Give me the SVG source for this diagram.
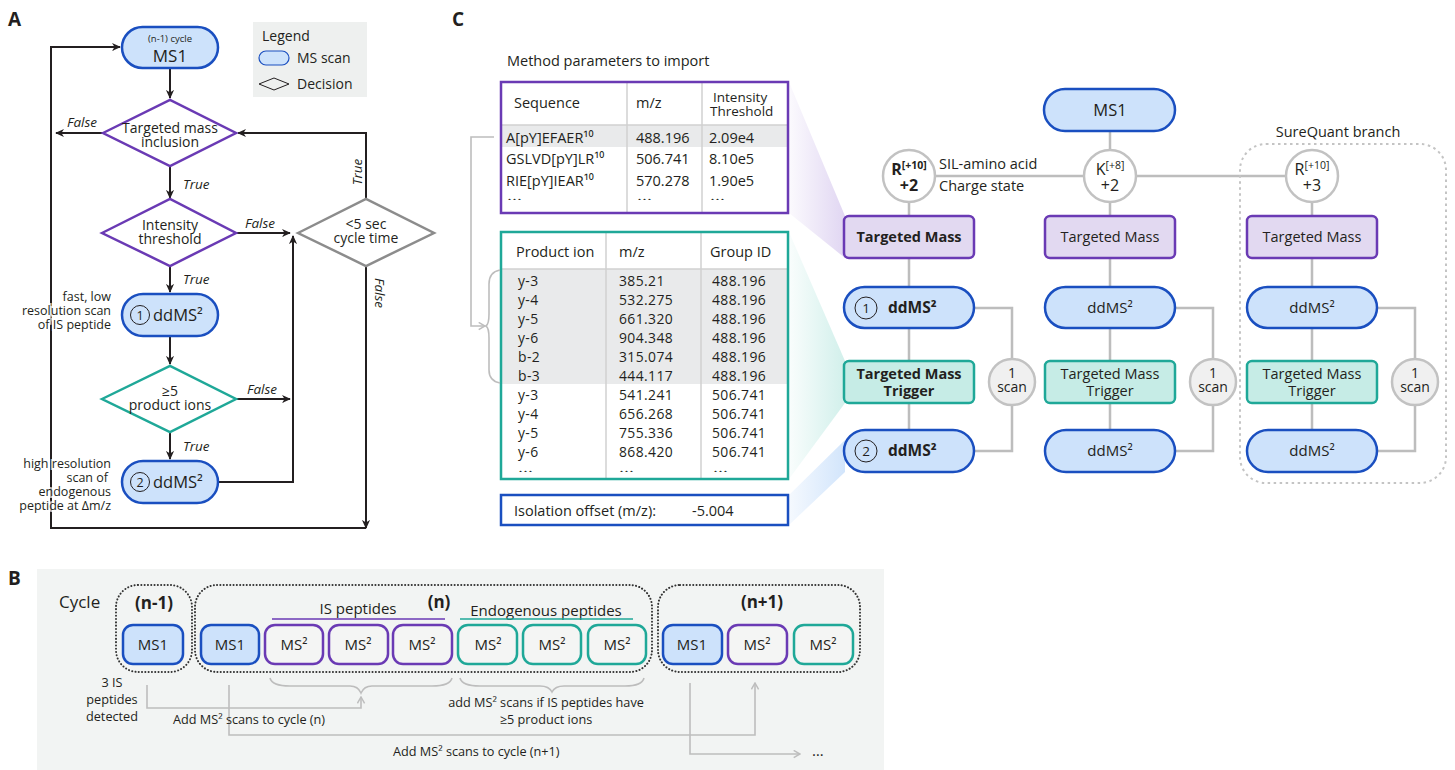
<svg xmlns="http://www.w3.org/2000/svg" width="1455" height="770" viewBox="0 0 1455 770">
<defs>
<style>
.t{font-family:"Open Sans","Noto Sans","Liberation Sans",sans-serif;fill:#231f20}
.b{font-weight:bold}
.i{font-style:italic}
.pill{fill:#cde2fb;stroke:#1a4fc0;stroke-width:2.5}
.tm{fill:#e2d9f1;stroke:#6a3ab4;stroke-width:2.5}
.tr{fill:#c6ece6;stroke:#1fa898;stroke-width:2.5}
.dk{fill:none;stroke:#231f20;stroke-width:2}
.gl{fill:none;stroke:#bdbdbd;stroke-width:2.5}
.gb{fill:none;stroke:#bdbdbd;stroke-width:1.6}
.halo{stroke:#ffffff;stroke-width:4;stroke-opacity:0.7;paint-order:stroke}
.num{fill:none;stroke:#231f20;stroke-width:1}
.scan{fill:#f0f0f0;stroke:#c2c2c2;stroke-width:2.5}
.sil{fill:#fff;stroke:#c2c2c2;stroke-width:2.5}
.dot{fill:none;stroke:#333;stroke-width:2;stroke-dasharray:0.1 3.2;stroke-linecap:round}
.mp{fill:#f4f5f4;stroke:#6a3ab4;stroke-width:2.5}
.mt{fill:#f4f5f4;stroke:#1fa898;stroke-width:2.5}
.mb{fill:#cde2fb;stroke:#1a4fc0;stroke-width:2.5}
.r2{font-size:13.9px;letter-spacing:0.4px}
</style>
<marker id="ah" viewBox="0 0 10 10" refX="9" refY="5" markerWidth="4.5" markerHeight="4.5" orient="auto" markerUnits="strokeWidth">
<path d="M0,0.5 L10,5 L0,9.5 L3,5 z" fill="#231f20"/>
</marker>
<marker id="ga" viewBox="0 0 10 10" refX="9" refY="5" markerWidth="9" markerHeight="9" orient="auto" markerUnits="userSpaceOnUse">
<path d="M2,1 L9,5 L2,9" fill="none" stroke="#bdbdbd" stroke-width="1.6"/>
</marker>
<linearGradient id="gp" x1="0" y1="0" x2="1" y2="0">
<stop offset="0" stop-color="#d9ccef" stop-opacity="0.1"/>
<stop offset="1" stop-color="#d9ccef" stop-opacity="0.8"/>
</linearGradient>
<linearGradient id="gt" x1="0" y1="0" x2="1" y2="0">
<stop offset="0" stop-color="#c6ece6" stop-opacity="0.1"/>
<stop offset="1" stop-color="#c6ece6" stop-opacity="0.8"/>
</linearGradient>
<linearGradient id="gbl" x1="0" y1="0" x2="1" y2="0">
<stop offset="0" stop-color="#cde2fb" stop-opacity="0.2"/>
<stop offset="1" stop-color="#cde2fb" stop-opacity="0.9"/>
</linearGradient>
</defs>
<rect width="1455" height="770" fill="#ffffff"/>

<!-- Panel labels -->
<text class="t b" x="8" y="26" font-size="19">A</text>
<text class="t b" x="452" y="26" font-size="19">C</text>
<text class="t b" x="8" y="585" font-size="19">B</text>

<!-- ================= PANEL A ================= -->
<g id="a-connectors">
<path class="dk" d="M170,68 V98" marker-end="url(#ah)"/>
<path class="dk" d="M103,133 H56" marker-end="url(#ah)"/>
<path class="dk" d="M366,528 H51 V47 H120" marker-end="url(#ah)"/>
<path class="dk" d="M170,166 V198" marker-end="url(#ah)"/>
<path class="dk" d="M236,233 H290" marker-end="url(#ah)"/>
<path class="dk" d="M366,199 V133 H238" marker-end="url(#ah)"/>
<path class="dk" d="M366,266 V528" marker-end="url(#ah)"/>
<path class="dk" d="M170,266 V292" marker-end="url(#ah)"/>
<path class="dk" d="M170,336 V364" marker-end="url(#ah)"/>
<path class="dk" d="M236,399 H290" marker-end="url(#ah)"/>
<path class="dk" d="M170,433 V459" marker-end="url(#ah)"/>
<path class="dk" d="M218,482 H293 V236" marker-end="url(#ah)"/>
<text class="t i" x="67" y="127" font-size="13.5">False</text>
<text class="t i" x="183" y="189" font-size="13.5">True</text>
<text class="t i" x="245" y="228" font-size="13.5">False</text>
<text class="t i" x="183" y="284" font-size="13.5">True</text>
<text class="t i" x="247" y="394" font-size="13.5">False</text>
<text class="t i" x="183" y="451" font-size="13.5">True</text>
<text class="t i" x="0" y="0" font-size="13.5" text-anchor="middle" transform="translate(362,172) rotate(-90)">True</text>
<text class="t i" x="0" y="0" font-size="13.5" text-anchor="middle" transform="translate(375,293) rotate(90)">False</text>
</g>

<g id="a-ms1">
<rect class="pill" x="122" y="27" width="96" height="41" rx="20.5"/>
<text class="t" text-anchor="middle"><tspan x="170" y="42" font-size="9.5">(n-1) cycle</tspan><tspan x="170" y="62" font-size="17">MS1</tspan></text>
</g>
<g id="a-legend">
<rect x="253" y="22" width="114" height="75" fill="#eef0ef"/>
<text class="t" x="262" y="41" font-size="14">Legend</text>
<rect x="259" y="51" width="30" height="14" rx="7" fill="#cde2fb" stroke="#1a4fc0" stroke-width="1.2"/>
<text class="t" x="297" y="63" font-size="14">MS scan</text>
<polygon points="259,84 274,78 289,84 274,90" fill="none" stroke="#231f20" stroke-width="1"/>
<text class="t" x="297" y="89" font-size="14">Decision</text>
</g>
<g id="a-d1">
<polygon points="103,133 170,100 236,133 170,166" fill="#fff" stroke="#6a3ab4" stroke-width="2.5"/>
<text class="t" font-size="14" text-anchor="middle"><tspan x="170" y="133">Targeted mass</tspan><tspan x="170" y="147">inclusion</tspan></text>
</g>
<g id="a-d2">
<polygon points="102,233 170,199 236,233 170,266" fill="#fff" stroke="#6a3ab4" stroke-width="2.5"/>
<text class="t" font-size="14" text-anchor="middle"><tspan x="170" y="230">Intensity</tspan><tspan x="170" y="244">threshold</tspan></text>
</g>
<g id="a-d3">
<polygon points="298,233 366,199 434,233 366,266" fill="#fff" stroke="#8c8c8c" stroke-width="2.5"/>
<text class="t" font-size="14" text-anchor="middle"><tspan x="366" y="229">&lt;5 sec</tspan><tspan x="366" y="243">cycle time</tspan></text>
</g>
<g id="a-dd1">
<rect class="pill" x="122" y="294" width="96" height="42" rx="21"/>
<circle class="num" cx="140" cy="315" r="9.5"/>
<text class="t" x="140" y="319.5" font-size="12.5" text-anchor="middle">1</text>
<text class="t" x="153" y="321" font-size="16.5">ddMS²</text>
<text class="t halo" font-size="12.5" text-anchor="end"><tspan x="111" y="301">fast, low</tspan><tspan x="111" y="315">resolution scan</tspan><tspan x="111" y="329">of IS peptide</tspan></text>
</g>
<g id="a-d4">
<polygon points="102,399 170,366 236,399 170,432" fill="#fff" stroke="#1fa898" stroke-width="2.5"/>
<text class="t" font-size="14" text-anchor="middle"><tspan x="170" y="396">≥5</tspan><tspan x="170" y="410">product ions</tspan></text>
</g>
<g id="a-dd2">
<rect class="pill" x="122" y="461" width="96" height="42" rx="21"/>
<circle class="num" cx="140" cy="482" r="9.5"/>
<text class="t" x="140" y="486.5" font-size="12.5" text-anchor="middle">2</text>
<text class="t" x="153" y="488" font-size="16.5">ddMS²</text>
<text class="t halo" font-size="12.5" text-anchor="end"><tspan x="111" y="468">high resolution</tspan><tspan x="108" y="482">scan of</tspan><tspan x="111" y="496">endogenous</tspan><tspan x="111" y="510">peptide at Δm/z</tspan></text>
</g>

<!-- ================= PANEL C ================= -->
<g id="c-wedges">
<polygon points="789,82 845,216 845,258 789,213" fill="url(#gp)"/>
<polygon points="789,232 845,361 845,403 789,479" fill="url(#gt)"/>
<polygon points="789,495 845,440 845,472 789,525" fill="url(#gbl)"/>
</g>

<text class="t" x="507" y="66" font-size="14.5">Method parameters to import</text>

<g id="c-table1">
<rect x="501" y="82" width="287" height="131" fill="#fff"/>
<rect x="501" y="125" width="287" height="22" fill="#e9eaeb"/>
<line x1="627" y1="82" x2="627" y2="213" stroke="#d0d0d0" stroke-width="1.5"/>
<line x1="702" y1="82" x2="702" y2="213" stroke="#d0d0d0" stroke-width="1.5"/>
<line x1="501" y1="125" x2="788" y2="125" stroke="#d0d0d0" stroke-width="1.5"/>
<rect x="501" y="82" width="287" height="131" fill="none" stroke="#6a3ab4" stroke-width="2.5"/>
<text class="t" x="514" y="108" font-size="14.5">Sequence</text>
<text class="t" x="636" y="108" font-size="14.5">m/z</text>
<text class="t" font-size="13.5"><tspan x="713" y="102">Intensity</tspan><tspan x="710" y="116">Threshold</tspan></text>
<text class="t" x="506" y="143" font-size="14.5">A[pY]EFAER¹⁰</text>
<text class="t" x="506" y="164" font-size="14.5">GSLVD[pY]LR¹⁰</text>
<text class="t" x="506" y="186" font-size="14.5">RIE[pY]IEAR¹⁰</text>
<text class="t" x="507" y="200" font-size="9" textLength="15" lengthAdjust="spacingAndGlyphs">…</text>
<text class="t" x="636" y="143" font-size="14.5">488.196</text>
<text class="t" x="636" y="164" font-size="14.5">506.741</text>
<text class="t" x="636" y="186" font-size="14.5">570.278</text>
<text class="t" x="637" y="200" font-size="9" textLength="15" lengthAdjust="spacingAndGlyphs">…</text>
<text class="t" x="709" y="143" font-size="14.5">2.09e4</text>
<text class="t" x="709" y="164" font-size="14.5">8.10e5</text>
<text class="t" x="709" y="186" font-size="14.5">1.90e5</text>
<text class="t" x="710" y="200" font-size="9" textLength="15" lengthAdjust="spacingAndGlyphs">…</text>
</g>

<g id="c-table2">
<rect x="501" y="232" width="287" height="247" fill="#fff"/>
<rect x="501" y="269" width="287" height="115" fill="#e9eaeb"/>
<line x1="606" y1="232" x2="606" y2="479" stroke="#d0d0d0" stroke-width="1.5"/>
<line x1="701" y1="232" x2="701" y2="479" stroke="#d0d0d0" stroke-width="1.5"/>
<line x1="501" y1="269" x2="788" y2="269" stroke="#d0d0d0" stroke-width="1.5"/>
<rect x="501" y="232" width="287" height="247" fill="none" stroke="#1fa898" stroke-width="2.5"/>
<text class="t" x="516" y="257" font-size="14.5">Product ion</text>
<text class="t" x="619" y="257" font-size="14.5">m/z</text>
<text class="t" x="710" y="257" font-size="14.5">Group ID</text>
<g>
<text class="t r2" x="518" y="286">y-3</text><text class="t r2" x="619" y="286">385.21</text><text class="t r2" x="712" y="286">488.196</text>
<text class="t r2" x="518" y="305">y-4</text><text class="t r2" x="619" y="305">532.275</text><text class="t r2" x="712" y="305">488.196</text>
<text class="t r2" x="518" y="324">y-5</text><text class="t r2" x="619" y="324">661.320</text><text class="t r2" x="712" y="324">488.196</text>
<text class="t r2" x="518" y="343">y-6</text><text class="t r2" x="619" y="343">904.348</text><text class="t r2" x="712" y="343">488.196</text>
<text class="t r2" x="518" y="362">b-2</text><text class="t r2" x="619" y="362">315.074</text><text class="t r2" x="712" y="362">488.196</text>
<text class="t r2" x="518" y="381">b-3</text><text class="t r2" x="619" y="381">444.117</text><text class="t r2" x="712" y="381">488.196</text>
<text class="t r2" x="518" y="400">y-3</text><text class="t r2" x="619" y="400">541.241</text><text class="t r2" x="712" y="400">506.741</text>
<text class="t r2" x="518" y="419">y-4</text><text class="t r2" x="619" y="419">656.268</text><text class="t r2" x="712" y="419">506.741</text>
<text class="t r2" x="518" y="438">y-5</text><text class="t r2" x="619" y="438">755.336</text><text class="t r2" x="712" y="438">506.741</text>
<text class="t r2" x="518" y="457">y-6</text><text class="t r2" x="619" y="457">868.420</text><text class="t r2" x="712" y="457">506.741</text>
<text class="t" x="518" y="471.5" font-size="9" textLength="15" lengthAdjust="spacingAndGlyphs">…</text>
<text class="t" x="619" y="471.5" font-size="9" textLength="15" lengthAdjust="spacingAndGlyphs">…</text>
<text class="t" x="713" y="471.5" font-size="9" textLength="15" lengthAdjust="spacingAndGlyphs">…</text>
</g>
</g>

<g id="c-isolation">
<rect x="501" y="495" width="287" height="30" fill="#fff" stroke="#1a4fc0" stroke-width="2.5"/>
<text class="t" x="514" y="516" font-size="14.5">Isolation offset (m/z):</text>
<text class="t" x="692" y="516" font-size="14.5">-5.004</text>
</g>

<g id="c-bracket">
<path class="gb" d="M494,137 H471 V326 H485" marker-end="url(#ga)"/>
<path class="gb" d="M500,270 Q489,272 489,284 V314 Q489,324 486,326 Q489,328 489,338 V370 Q489,381 500,383"/>
</g>

<g id="c-connectors">
<path class="gl" d="M1110,131 V150"/>
<path class="gl" d="M935,176 H1084 M1136,176 H1286"/>
<path class="gl" d="M909,202 V216 M909,258 V287 M909,328 V361 M909,403 V430"/>
<path class="gl" d="M1110,202 V216 M1110,258 V287 M1110,328 V361 M1110,403 V430"/>
<path class="gl" d="M1312,202 V216 M1312,258 V287 M1312,328 V361 M1312,403 V430"/>
<path class="gl" d="M974,308 H1012 V359 M1012,405 V451 H974"/>
<path class="gl" d="M1175,308 H1213 V359 M1213,405 V451 H1175"/>
<path class="gl" d="M1377,308 H1415 V359 M1415,405 V451 H1377"/>
</g>

<g id="c-surequant">
<rect x="1240" y="144" width="206" height="339" rx="26" fill="none" stroke="#c4c4c4" stroke-width="2" stroke-dasharray="2.5 3.5"/>
<text class="t" x="1338" y="137" font-size="14.5" text-anchor="middle">SureQuant branch</text>
</g>

<g id="c-ms1">
<rect class="pill" x="1044" y="89" width="131" height="42" rx="21"/>
<text class="t" x="1110" y="116" font-size="16.5" text-anchor="middle">MS1</text>
</g>

<g id="c-col1">
<circle class="sil" cx="909" cy="176" r="26"/>
<text class="t b" font-size="16" text-anchor="middle"><tspan x="909" y="175">R<tspan font-size="10.5" dy="-6">[+10]</tspan></tspan><tspan x="909" y="191">+2</tspan></text>
<text class="t" font-size="14.5"><tspan x="939" y="169">SIL-amino acid</tspan><tspan x="939" y="191">Charge state</tspan></text>
<rect class="tm" x="844" y="216" width="130" height="42" rx="5"/>
<text class="t b" x="909" y="242" font-size="14.5" text-anchor="middle">Targeted Mass</text>
<rect class="pill" x="844" y="287" width="130" height="41" rx="20.5"/>
<circle class="num" cx="866" cy="308" r="11"/>
<text class="t" x="866" y="313" font-size="13.5" text-anchor="middle">1</text>
<text class="t b" x="888" y="313" font-size="15.5">ddMS²</text>
<rect class="tr" x="844" y="361" width="130" height="42" rx="5"/>
<text class="t b" font-size="14.5" text-anchor="middle"><tspan x="909" y="379">Targeted Mass</tspan><tspan x="909" y="396">Trigger</tspan></text>
<rect class="pill" x="844" y="430" width="130" height="42" rx="21"/>
<circle class="num" cx="866" cy="451" r="11"/>
<text class="t" x="866" y="456" font-size="13.5" text-anchor="middle">2</text>
<text class="t b" x="888" y="456" font-size="15.5">ddMS²</text>
<circle class="scan" cx="1012" cy="382" r="23"/>
<text class="t" font-size="14" text-anchor="middle"><tspan x="1012" y="378">1</tspan><tspan x="1012" y="392">scan</tspan></text>
</g>

<g id="c-col2">
<circle class="sil" cx="1110" cy="176" r="26"/>
<text class="t" font-size="16" text-anchor="middle"><tspan x="1110" y="175">K<tspan font-size="10.5" dy="-6">[+8]</tspan></tspan><tspan x="1110" y="191">+2</tspan></text>
<rect class="tm" x="1045" y="216" width="130" height="42" rx="5"/>
<text class="t" x="1110" y="242" font-size="14.5" text-anchor="middle">Targeted Mass</text>
<rect class="pill" x="1045" y="287" width="130" height="41" rx="20.5"/>
<text class="t" x="1110" y="313" font-size="15" text-anchor="middle">ddMS²</text>
<rect class="tr" x="1045" y="361" width="130" height="42" rx="5"/>
<text class="t" font-size="14.5" text-anchor="middle"><tspan x="1110" y="379">Targeted Mass</tspan><tspan x="1110" y="396">Trigger</tspan></text>
<rect class="pill" x="1045" y="430" width="130" height="42" rx="21"/>
<text class="t" x="1110" y="456" font-size="15" text-anchor="middle">ddMS²</text>
<circle class="scan" cx="1213" cy="382" r="23"/>
<text class="t" font-size="14" text-anchor="middle"><tspan x="1213" y="378">1</tspan><tspan x="1213" y="392">scan</tspan></text>
</g>

<g id="c-col3">
<circle class="sil" cx="1312" cy="176" r="26"/>
<text class="t" font-size="16" text-anchor="middle"><tspan x="1312" y="175">R<tspan font-size="10.5" dy="-6">[+10]</tspan></tspan><tspan x="1312" y="191">+3</tspan></text>
<rect class="tm" x="1247" y="216" width="130" height="42" rx="5"/>
<text class="t" x="1312" y="242" font-size="14.5" text-anchor="middle">Targeted Mass</text>
<rect class="pill" x="1247" y="287" width="130" height="41" rx="20.5"/>
<text class="t" x="1312" y="313" font-size="15" text-anchor="middle">ddMS²</text>
<rect class="tr" x="1247" y="361" width="130" height="42" rx="5"/>
<text class="t" font-size="14.5" text-anchor="middle"><tspan x="1312" y="379">Targeted Mass</tspan><tspan x="1312" y="396">Trigger</tspan></text>
<rect class="pill" x="1247" y="430" width="130" height="42" rx="21"/>
<text class="t" x="1312" y="456" font-size="15" text-anchor="middle">ddMS²</text>
<circle class="scan" cx="1415" cy="382" r="23"/>
<text class="t" font-size="14" text-anchor="middle"><tspan x="1415" y="378">1</tspan><tspan x="1415" y="392">scan</tspan></text>
</g>

<!-- ================= PANEL B ================= -->
<rect x="37" y="569" width="847" height="201" fill="#f2f4f3"/>
<text class="t" x="59" y="608" font-size="17">Cycle</text>

<g id="b-connectors">
<path class="gb" d="M270,678 Q272,686 290,686 H350 Q358,686 361,693 Q364,686 372,686 H432 Q450,686 452,678"/>
<path class="gb" d="M460,678 Q462,686 480,686 H540 Q549,686 552,692 Q555,686 564,686 H625 Q642,686 644,678"/>
<path class="gb" d="M147,685 V708 H361 V697" marker-end="url(#ga)"/>
<path class="gb" d="M229,685 V735 H755 V683" marker-end="url(#ga)"/>
<path class="gb" d="M690,683 V754 H800" marker-end="url(#ga)"/>
<text class="t" font-size="12.7" text-anchor="middle"><tspan x="112" y="687">3 IS</tspan><tspan x="112" y="704">peptides</tspan><tspan x="112" y="721">detected</tspan></text>
<text class="t" x="173" y="724" font-size="12.7">Add MS² scans to cycle (n)</text>
<text class="t" font-size="12.7" text-anchor="middle"><tspan x="546" y="707">add MS² scans if IS peptides have</tspan><tspan x="546" y="724">≥5 product ions</tspan></text>
<text class="t" x="393" y="756" font-size="12.7">Add MS² scans to cycle (n+1)</text>
<text class="t" x="812" y="756" font-size="15">…</text>
</g>

<g id="b-cycle-n-1">
<rect class="dot" x="116" y="585" width="76" height="87" rx="22"/>
<text class="t b" x="154" y="609" font-size="17" text-anchor="middle">(n-1)</text>
<rect class="mb" x="123" y="625" width="60" height="39" rx="10"/>
<text class="t" x="153" y="650" font-size="15" text-anchor="middle">MS1</text>
</g>

<g id="b-cycle-n">
<rect class="dot" x="195" y="585" width="457" height="87" rx="22"/>
<text class="t b" x="439" y="608" font-size="17" text-anchor="middle">(n)</text>
<text class="t" x="358" y="614" font-size="15" text-anchor="middle">IS peptides</text>
<line x1="272" y1="619" x2="445" y2="619" stroke="#6a3ab4" stroke-width="1.5"/>
<text class="t" x="546" y="616" font-size="15" text-anchor="middle">Endogenous peptides</text>
<line x1="460" y1="619" x2="633" y2="619" stroke="#1fa898" stroke-width="1.5"/>
<rect class="mb" x="201" y="625" width="58" height="39" rx="10"/>
<text class="t" x="230" y="650" font-size="15" text-anchor="middle">MS1</text>
<rect class="mp" x="265" y="625" width="58" height="39" rx="10"/>
<text class="t" x="294" y="650" font-size="15" text-anchor="middle">MS²</text>
<rect class="mp" x="329" y="625" width="59" height="39" rx="10"/>
<text class="t" x="358" y="650" font-size="15" text-anchor="middle">MS²</text>
<rect class="mp" x="393" y="625" width="59" height="39" rx="10"/>
<text class="t" x="422" y="650" font-size="15" text-anchor="middle">MS²</text>
<rect class="mt" x="458" y="625" width="59" height="39" rx="10"/>
<text class="t" x="488" y="650" font-size="15" text-anchor="middle">MS²</text>
<rect class="mt" x="523" y="625" width="58" height="39" rx="10"/>
<text class="t" x="552" y="650" font-size="15" text-anchor="middle">MS²</text>
<rect class="mt" x="588" y="625" width="58" height="39" rx="10"/>
<text class="t" x="617" y="650" font-size="15" text-anchor="middle">MS²</text>
</g>

<g id="b-cycle-n1">
<rect class="dot" x="658" y="585" width="202" height="87" rx="22"/>
<text class="t b" x="762" y="608" font-size="17" text-anchor="middle">(n+1)</text>
<rect class="mb" x="663" y="625" width="59" height="39" rx="10"/>
<text class="t" x="692" y="650" font-size="15" text-anchor="middle">MS1</text>
<rect class="mp" x="728" y="625" width="59" height="39" rx="10"/>
<text class="t" x="757" y="650" font-size="15" text-anchor="middle">MS²</text>
<rect class="mt" x="794" y="625" width="59" height="39" rx="10"/>
<text class="t" x="823" y="650" font-size="15" text-anchor="middle">MS²</text>
</g>
</svg>
